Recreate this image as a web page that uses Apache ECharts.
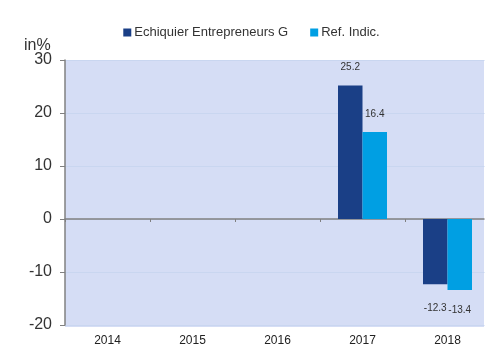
<!DOCTYPE html>
<html>
<head>
<meta charset="utf-8">
<script src="https://cdn.jsdelivr.net/npm/echarts@6/dist/echarts.min.js"></script>
<style>
  html, body { margin: 0; padding: 0; background: #fff; }
  #chart { width: 503px; height: 347px; }
</style>
</head>
<body>
<div id="chart"></div>
<script>
// Calendar-year performance, fund vs. reference index
const years = ['2014', '2015', '2016', '2017', '2018'];
const fundValues = [null, null, null, 25.2, -12.3];
const indexValues = [null, null, null, 16.4, -13.4];
const yTicks = { min: -20, max: 30, interval: 10 };

const FONT = 'Liberation Sans, Arial, sans-serif';
const chart = echarts.init(document.getElementById('chart'), null, { renderer: 'canvas' });

function valueLabel(v, negDistance) {
  const pos = v >= 0 ? 'top' : 'bottom';
  return {
    show: true,
    position: pos,
    distance: pos === 'top' ? 13 : negDistance,
    fontSize: 10,
    color: '#333',
    fontFamily: FONT
  };
}

chart.setOption({
  animation: false,
  textStyle: { fontFamily: FONT },
  title: {
    text: 'in%',
    left: 19,
    top: 33,
    textStyle: { fontSize: 16, fontWeight: 'normal', color: '#333', fontFamily: FONT }
  },
  legend: {
    top: 21,
    left: 'center',
    itemWidth: 8,
    itemHeight: 8,
    itemGap: 22,
    icon: 'rect',
    textStyle: { fontSize: 13, color: '#333', fontFamily: FONT, padding: [0, 0, 0, -2] },
    data: ['Echiquier Entrepreneurs G', 'Ref. Indic.']
  },
  graphic: [{
    // plot background
    type: 'rect',
    z: -1,
    silent: true,
    shape: { x: 65, y: 60, width: 419, height: 267 },
    style: { fill: '#d5ddf5' }
  }, {
    // trims grid lines and the zero line at the plot's right edge
    type: 'rect',
    z: 100,
    silent: true,
    shape: { x: 484.5, y: 55, width: 18, height: 275 },
    style: { fill: '#ffffff' }
  }],
  grid: { left: 65, right: 13, top: 60, bottom: 20 },
  xAxis: [{
    type: 'category',
    data: years,
    axisLine: { onZero: true, lineStyle: { color: '#808080', width: 1.5 } },
    axisTick: { show: true, length: 3, lineStyle: { color: '#808080' } },
    axisLabel: { show: false },
    splitLine: { show: false }
  }, {
    type: 'category',
    data: years,
    position: 'bottom',
    axisLine: { show: false, onZero: false },
    axisTick: { show: false },
    axisLabel: { show: true, margin: 10, fontSize: 12, color: '#222', fontFamily: FONT },
    splitLine: { show: false }
  }],
  yAxis: {
    type: 'value',
    min: yTicks.min,
    max: yTicks.max,
    interval: yTicks.interval,
    axisLine: { show: true, lineStyle: { color: '#808080', width: 1.5 } },
    axisTick: { show: true, length: 5, lineStyle: { color: '#808080' } },
    axisLabel: { margin: 13, fontSize: 16, color: '#333', fontFamily: FONT },
    splitLine: { show: true, lineStyle: { color: '#c9d6f0', width: 1 } }
  },
  series: [{
    name: 'Echiquier Entrepreneurs G',
    type: 'bar',
    xAxisIndex: 0,
    data: fundValues.map(v => v == null ? null : { value: v, label: valueLabel(v, 19) }),
    barWidth: 24.5,
    barGap: '0%',
    itemStyle: { color: '#1a3f86' }
  }, {
    name: 'Ref. Indic.',
    type: 'bar',
    xAxisIndex: 0,
    data: indexValues.map(v => v == null ? null : { value: v, label: valueLabel(v, 15) }),
    barWidth: 24.5,
    barGap: '0%',
    itemStyle: { color: '#009fe3' }
  }]
});
</script>
</body>
</html>
